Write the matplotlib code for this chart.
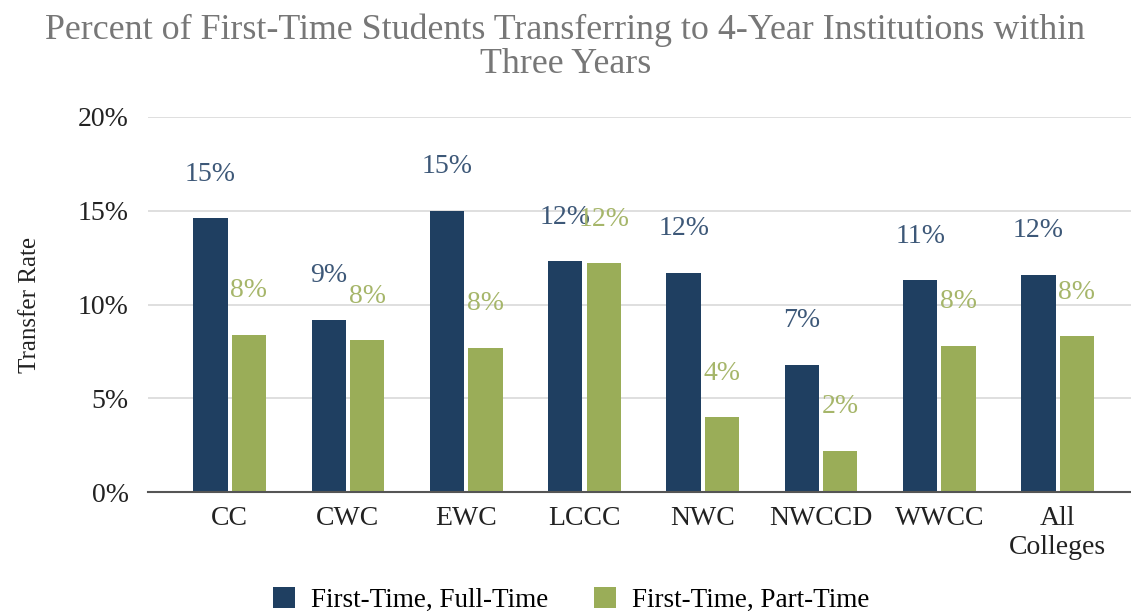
import matplotlib
matplotlib.use("Agg")
import matplotlib.pyplot as plt
import numpy as np

plt.rcParams["font.family"] = ["Liberation Serif", "DejaVu Serif"]

colleges = ["CC", "CWC", "EWC", "LCCC", "NWC", "NWCCD", "WWCC", "All\nColleges"]
full_time = [14.6, 9.2, 15.0, 12.3, 11.7, 6.8, 11.3, 11.6]
part_time = [8.4, 8.1, 7.7, 12.2, 4.0, 2.2, 7.8, 8.3]
series_names = ["First-Time, Full-Time", "First-Time, Part-Time"]
y_ticks = [0, 5, 10, 15, 20]

BAR_COLORS = ["#1f3f61", "#9aad58"]
LABEL_COLORS = ["#3d5878", "#a6b66a"]

fig = plt.figure(figsize=(11.31, 6.16), dpi=100)
ax = fig.add_axes([148 / 1131, 124 / 616, 1 - 148 / 1131, 375 / 616])

x = np.arange(len(colleges))
width = 0.29
offset = 0.162

for vals, dx, color, lcolor, name in zip(
    [full_time, part_time], [-offset, offset], BAR_COLORS, LABEL_COLORS, series_names
):
    bars = ax.bar(x + dx, vals, width, color=color, label=name, zorder=3)
    for bar, v in zip(bars, vals):
        ax.annotate(
            f"{round(v):.0f}%",
            (bar.get_x() + bar.get_width() / 2, bar.get_height()),
            xytext=(0, 44), textcoords="offset pixels",
            ha="center", va="center", fontsize=20, color=lcolor, zorder=4,
        )

ax.set_xlim(-0.69, 7.62)
ax.set_ylim(0, 20)
ax.set_yticks(y_ticks)
ax.set_yticklabels([f"{t}%" for t in y_ticks], fontsize=20, color="#222222")
ax.set_xticks(x)
ax.set_xticklabels(colleges, fontsize=20, color="#222222", linespacing=1.2)
ax.tick_params(axis="both", length=0)
ax.tick_params(axis="y", pad=14)
ax.tick_params(axis="x", pad=10)

ax.grid(axis="y", color="#d9d9d9", linewidth=1.2, zorder=0)
for side in ["top", "right", "left"]:
    ax.spines[side].set_visible(False)
ax.spines["bottom"].set_color("#555555")
ax.spines["bottom"].set_linewidth(1.5)
ax.spines["bottom"].set_zorder(5)

ax.set_ylabel("Transfer Rate", fontsize=18, color="#222222", labelpad=26)

fig.text(0.5, 0.978, "Percent of First-Time Students Transferring to 4-Year Institutions within\nThree Years",
         ha="center", va="top", fontsize=25.8, color="#777777", linespacing=1.02)

fig.legend(loc="lower center", bbox_to_anchor=(0.505, -0.035), ncol=2, frameon=False,
           fontsize=19.5, handlelength=0.8, handleheight=0.8, handletextpad=0.6, columnspacing=1.7)

fig.savefig("out.png", dpi=100)
